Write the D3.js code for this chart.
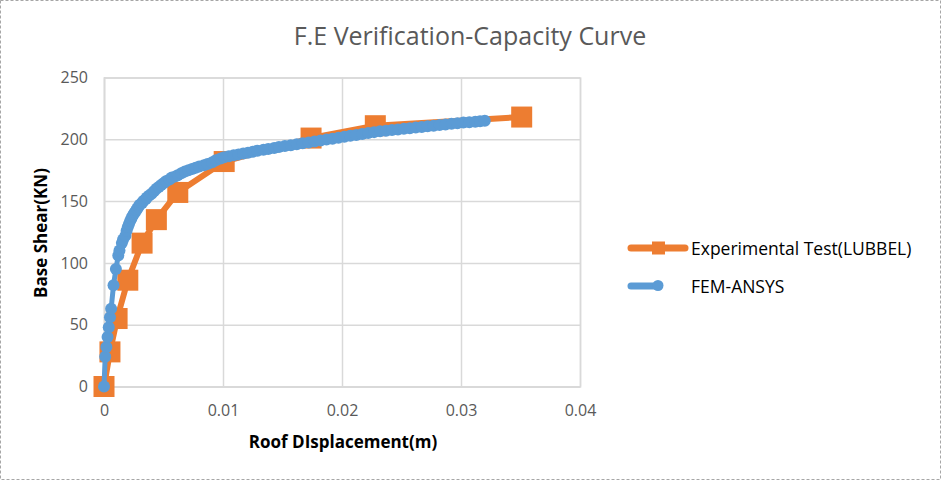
<!DOCTYPE html>
<html>
<head>
<meta charset="utf-8">
<script src="https://cdn.jsdelivr.net/npm/d3@7"></script>
<style>
  html, body { margin: 0; padding: 0; background: #fff; }
  svg { display: block; }
  text { font-family: "Open Sans", "Noto Sans", sans-serif; }
</style>
</head>
<body>
<svg id="chart" width="941" height="480"></svg>
<script>
// ---- data ----
const chartTitle = "F.E Verification-Capacity Curve";
const xTitle = "Roof DIsplacement(m)";
const yTitle = "Base Shear(KN)";
const xTicks = [0, 0.01, 0.02, 0.03, 0.04];
const xTickLabels = ["0", "0.01", "0.02", "0.03", "0.04"];
const yTicks = [0, 50, 100, 150, 200, 250];
const yTickLabels = ["0", "50", "100", "150", "200", "250"];

const seriesNames = ["Experimental Test(LUBBEL)", "FEM-ANSYS"];

const expX = [0, 0.0005, 0.0011, 0.002, 0.0032, 0.0044, 0.0062, 0.0101, 0.0174, 0.0228, 0.0351];
const expY = [0, 28, 55, 86, 116, 135, 157, 182, 201, 211, 218];

const femX = [0, 0.0001, 0.0002, 0.0003, 0.0004, 0.0005, 0.0006, 0.0008, 0.001, 0.0012, 0.0013,
  0.0015, 0.0016, 0.0018, 0.0019, 0.002, 0.0021, 0.0022, 0.0023, 0.0024, 0.0025, 0.0026, 0.0027,
  0.0028, 0.0029, 0.003, 0.0032, 0.0033, 0.0035, 0.0036, 0.0038, 0.004, 0.0042, 0.0044, 0.0046,
  0.0048, 0.005, 0.0052, 0.0055, 0.0057, 0.006, 0.0062, 0.0065, 0.0068, 0.0071, 0.0074, 0.0077,
  0.008, 0.0084, 0.0087, 0.0091, 0.0094, 0.0098, 0.0101, 0.0105, 0.0109, 0.0113, 0.0117, 0.0121,
  0.0125, 0.0129, 0.0134, 0.0138, 0.0143, 0.0147, 0.0152, 0.0157, 0.0162, 0.0167, 0.0172, 0.0177,
  0.0182, 0.0187, 0.0192, 0.0197, 0.0202, 0.0207, 0.0212, 0.0217, 0.0222, 0.0227, 0.0232, 0.0237,
  0.0242, 0.0247, 0.0252, 0.0257, 0.0262, 0.0267, 0.0272, 0.0277, 0.0282, 0.0287, 0.0292, 0.0297,
  0.0302, 0.0307, 0.0312, 0.0316, 0.032];
const femY = [0, 24, 32, 40, 48, 56, 63, 82, 95, 106, 110,
  116, 119, 122, 126, 129, 131.5, 134, 136, 138, 139.5, 141, 142.5,
  144, 145.5, 147, 148.5, 150, 151.5, 153, 154.5, 156, 158, 160, 161.5,
  163, 164.5, 166, 167.5, 169, 170, 171, 172.5, 174, 175, 176, 177,
  178, 179, 180, 181.5, 183, 184.5, 185.5, 186.2, 187, 187.8, 188.5, 189.2,
  190, 190.8, 191.5, 192.2, 193, 193.8, 194.5, 195.2, 196, 196.8, 197.5, 198.2,
  199, 199.8, 200.5, 201.2, 202, 202.8, 203.5, 204.2, 205, 205.8, 206.5, 207,
  207.5, 208, 208.5, 209, 209.5, 210, 210.5, 211, 211.5, 212, 212.5, 213,
  213.5, 213.8, 214.2, 214.6, 215];

// ---- layout ----
const W = 941, H = 480;
const plot = { left: 104, right: 580, top: 77.5, bottom: 386.5 };
const orange = "#ED7D31", blue = "#5B9BD5", grid = "#D9D9D9";

const svg = d3.select("#chart");

// outer dashed border
svg.append("rect")
  .attr("x", 0.5).attr("y", 0.5).attr("width", W - 1).attr("height", H - 1)
  .attr("fill", "#fff").attr("stroke", "#A6A6A6").attr("stroke-dasharray", "3,2");

const x = d3.scaleLinear().domain([0, 0.04]).range([plot.left, plot.right]);
const y = d3.scaleLinear().domain([0, 250]).range([plot.bottom, plot.top]);

// gridlines
const xAxisGrid = d3.axisBottom(x).tickValues(xTicks).tickSize(-(plot.bottom - plot.top)).tickFormat("");
const yAxisGrid = d3.axisLeft(y).tickValues(yTicks).tickSize(-(plot.right - plot.left)).tickFormat("");
const gx = svg.append("g").attr("transform", `translate(0,${plot.bottom})`).call(xAxisGrid);
const gy = svg.append("g").attr("transform", `translate(${plot.left},0)`).call(yAxisGrid);
[gx, gy].forEach(g => {
  g.select(".domain").attr("stroke", grid).attr("stroke-width", 1.5);
  g.selectAll(".tick line").attr("stroke", grid).attr("stroke-width", 1.5);
});

// tick labels
const xLab = d3.axisBottom(x).tickValues(xTicks).tickSize(0).tickPadding(18)
  .tickFormat((d, i) => xTickLabels[i]);
const yLab = d3.axisLeft(y).tickValues(yTicks).tickSize(0).tickPadding(16)
  .tickFormat((d, i) => yTickLabels[i]);
const gxl = svg.append("g").attr("transform", `translate(0,${plot.bottom})`).call(xLab);
const gyl = svg.append("g").attr("transform", `translate(${plot.left},0)`).call(yLab);
[gxl, gyl].forEach(g => {
  g.select(".domain").remove();
  g.selectAll("text").attr("fill", "#595959").style("font-size", "16px")
    .style("font-family", "'Open Sans', sans-serif");
});

// series
const expData = expX.map((v, i) => [v, expY[i]]);
const femData = femX.map((v, i) => [v, femY[i]]);
const line = d3.line().x(d => x(d[0])).y(d => y(d[1]));

svg.append("path").datum(expData).attr("d", line)
  .attr("fill", "none").attr("stroke", orange).attr("stroke-width", 6)
  .attr("stroke-linejoin", "round").attr("stroke-linecap", "round");
const sq = 21;
svg.append("g").selectAll("rect").data(expData).join("rect")
  .attr("x", d => x(d[0]) - sq / 2).attr("y", d => y(d[1]) - sq / 2)
  .attr("width", sq).attr("height", sq).attr("fill", orange);

svg.append("path").datum(femData).attr("d", line)
  .attr("fill", "none").attr("stroke", blue).attr("stroke-width", 5)
  .attr("stroke-linejoin", "round").attr("stroke-linecap", "round");
svg.append("g").selectAll("circle").data(femData).join("circle")
  .attr("cx", d => x(d[0])).attr("cy", d => y(d[1])).attr("r", 6).attr("fill", blue);

// title
svg.append("text").attr("x", 470).attr("y", 45).attr("text-anchor", "middle")
  .attr("fill", "#595959").style("font-size", "25px").text(chartTitle);

// axis titles
svg.append("text").attr("x", 343).attr("y", 448).attr("text-anchor", "middle")
  .attr("fill", "#000").style("font-size", "17px").style("font-weight", "bold").text(xTitle);
svg.append("text").attr("transform", "translate(47,233) rotate(-90)").attr("text-anchor", "middle")
  .attr("fill", "#000").style("font-size", "17px").style("font-weight", "bold").text(yTitle);

// legend
const leg = svg.append("g");
leg.append("line").attr("x1", 631).attr("x2", 685).attr("y1", 248).attr("y2", 248)
  .attr("stroke", orange).attr("stroke-width", 7).attr("stroke-linecap", "round");
leg.append("rect").attr("x", 652).attr("y", 241.5).attr("width", 13).attr("height", 13).attr("fill", orange);
leg.append("text").attr("x", 691).attr("y", 254.5).attr("fill", "#000")
  .style("font-size", "17.5px").text(seriesNames[0]);

leg.append("line").attr("x1", 631).attr("x2", 657).attr("y1", 286).attr("y2", 286)
  .attr("stroke", blue).attr("stroke-width", 7).attr("stroke-linecap", "round");
leg.append("circle").attr("cx", 658).attr("cy", 285.5).attr("r", 5.5).attr("fill", blue);
leg.append("text").attr("x", 691).attr("y", 292.5).attr("fill", "#000")
  .style("font-size", "17.5px").text(seriesNames[1]);
</script>
</body>
</html>
